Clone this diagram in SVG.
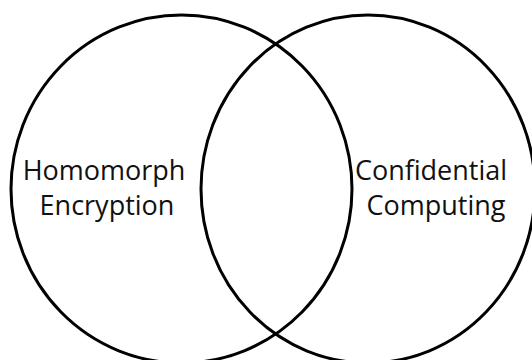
<svg xmlns="http://www.w3.org/2000/svg" width="532" height="360" viewBox="0 0 532 360">
<style>
.set{fill:none;stroke:#000;stroke-width:3}
.lbl{font-family:"Open Sans","Noto Sans",sans-serif;font-size:27px;fill:#111;text-anchor:middle}
</style>
<rect width="532" height="360" fill="#fff"/>
<g id="homomorph">
<ellipse class="set" cx="181.5" cy="189" rx="170.5" ry="174"/>
<text class="lbl" x="104" y="180">Homomorph</text>
<text class="lbl" x="107" y="215">Encryption</text>
</g>
<g id="confidential">
<ellipse class="set" cx="368" cy="189" rx="167" ry="174"/>
<text class="lbl" x="431" y="180">Confidential</text>
<text class="lbl" x="436" y="215">Computing</text>
</g>
<g id="connectors"></g>
</svg>
